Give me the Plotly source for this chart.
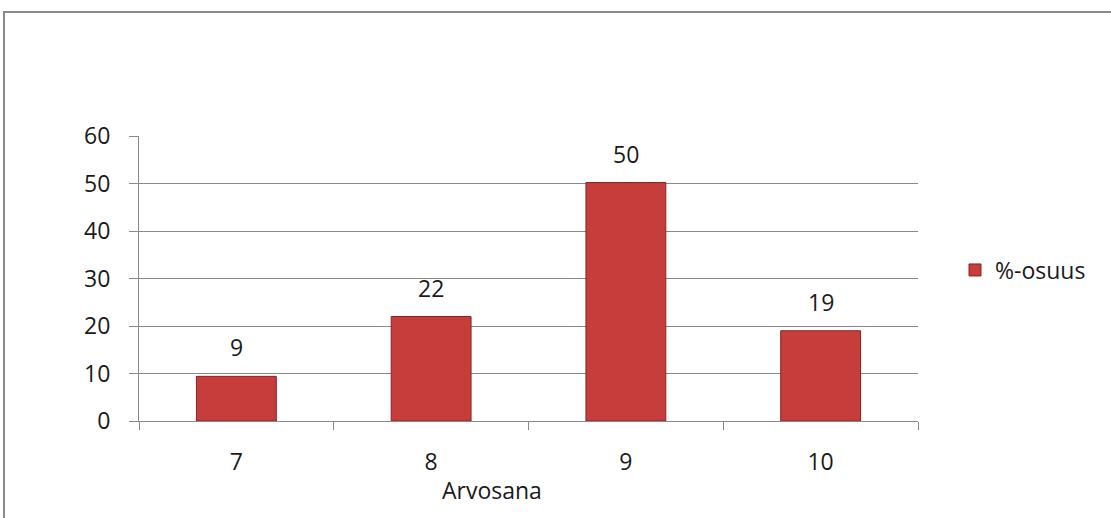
import plotly.graph_objects as go

categories = ["7", "8", "9", "10"]
values = [9.4, 22.0, 50.2, 19.0]
labels = ["9", "22", "50", "19"]
series_name = "%-osuus"
x_title = "Arvosana"
y_ticks = [0, 10, 20, 30, 40, 50, 60]

W, H = 1111, 518
L, R, T, B = 139, 918, 136, 421
pw, ph = R - L, B - T

def px(x):
    return (x - L) / pw

def py(y):
    return (B - y) / ph

FONT = "Open Sans"
FS = 23
TXT = "#1a1a1a"
fig = go.Figure()
fig.add_trace(go.Bar(
    x=categories, y=values, name=series_name, width=0.41,
    marker=dict(color="#C63D3B", line=dict(color="#8A2221", width=1)),
    showlegend=True,
))

annotations = []
for i, (v, t) in enumerate(zip(values, labels)):
    annotations.append(dict(x=i, y=v, xref="x", yref="y", text=t, showarrow=False,
                            yanchor="bottom", yshift=11,
                            font=dict(family=FONT, size=FS, color=TXT)))
annotations.append(dict(x=px(492), y=py(490), xref="paper", yref="paper", text=x_title,
                        showarrow=False, xanchor="center", yanchor="middle",
                        font=dict(family=FONT, size=FS, color=TXT)))

fig.update_layout(
    width=W, height=H,
    margin=dict(l=L, r=W - R, t=T, b=H - B),
    paper_bgcolor="white", plot_bgcolor="white",
    font=dict(family=FONT, size=FS, color=TXT),
    xaxis=dict(type="category", range=[-0.5, 3.5], showgrid=False, showline=True,
               linecolor="#8a8a8a", linewidth=1,
               ticks="outside", tickson="boundaries", ticklen=8, tickcolor="#8a8a8a",
               ticklabelstandoff=20,
               tickfont=dict(family=FONT, size=FS, color=TXT), fixedrange=True),
    yaxis=dict(range=[0, 60], tickvals=y_ticks, showgrid=True, gridcolor="#8a8a8a", gridwidth=1,
               showline=True, linecolor="#8a8a8a", linewidth=1, zeroline=False,
               ticks="outside", ticklen=9, tickcolor="#8a8a8a", ticklabelstandoff=14,
               tickfont=dict(family=FONT, size=FS, color=TXT)),
    legend=dict(x=px(955), y=py(270), xanchor="left", yanchor="middle",
                font=dict(family=FONT, size=FS, color=TXT), bgcolor="rgba(0,0,0,0)"),
    annotations=annotations,
    shapes=[dict(type="rect", xref="paper", yref="paper",
                 x0=px(4), x1=px(1125), y0=py(530), y1=py(12),
                 line=dict(color="#8a8a8a", width=2), layer="below")],
)

fig.write_html("out.html")
